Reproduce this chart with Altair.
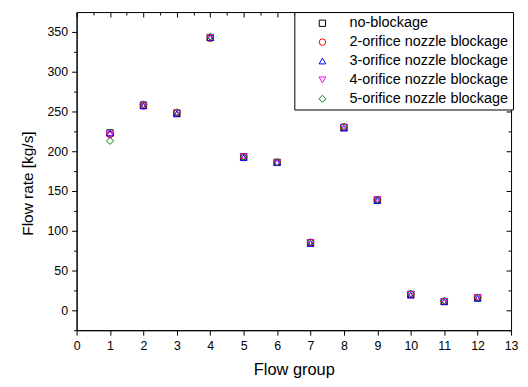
import altair as alt
import pandas as pd

groups = [1, 2, 3, 4, 5, 6, 7, 8, 9, 10, 11, 12]
series_names = [
    "no-blockage",
    "2-orifice nozzle blockage",
    "3-orifice nozzle blockage",
    "4-orifice nozzle blockage",
    "5-orifice nozzle blockage",
]
no_blockage = [223, 258, 248, 343, 193, 186, 85, 230, 139, 20, 11, 16]
orifice2 = [221, 257, 248, 342, 192, 186, 85, 230, 138, 20, 11, 16]
orifice3 = [223, 257, 247, 343, 192, 186, 84, 229, 138, 19, 11, 15]
orifice4 = [220, 258, 248, 343, 193, 185, 85, 230, 139, 20, 11, 16]
orifice5 = [213, 259, 249, 344, 193, 186, 86, 231, 139, 21, 12, 16]
series_values = [no_blockage, orifice2, orifice3, orifice4, orifice5]
colors = ["#000000", "#ff0000", "#0000ff", "#ff00ff", "#008000"]
shapes = ["square", "circle", "triangle-up", "triangle-down", "diamond"]
marker_sizes = [40, 50, 55, 55, 85]

x_ticks_all = [i * 0.5 for i in range(0, 27)]
x_major = list(range(0, 14))
x_minor = [i + 0.5 for i in range(0, 13)]
y_ticks_all = [-25 + 25 * i for i in range(0, 16)]
y_major = [0, 50, 100, 150, 200, 250, 300, 350]
y_minor = [-25, 25, 75, 125, 175, 225, 275, 325, 375]

rows = []
for name, vals in zip(series_names, series_values):
    for g, v in zip(groups, vals):
        rows.append({"group": g, "flow": v, "series": name})
df = pd.DataFrame(rows)

xscale = alt.Scale(domain=[0, 13], nice=False, zero=False)
yscale = alt.Scale(domain=[-25, 375], nice=False, zero=False)

bottom_axis = alt.Axis(
    orient="bottom", values=x_ticks_all, grid=False, format="d",
    labelExpr="datum.value % 1 === 0 ? datum.label : ''",
    tickSize={"condition": {"test": "datum.value % 1 !== 0", "value": 3}, "value": 5},
    labelPadding=4, labelFontSize=12.5, titleFontSize=16.5, titlePadding=10,
    title="Flow group", labelOverlap=False, labelFlush=False,
)
left_axis = alt.Axis(
    orient="left", values=y_ticks_all, grid=False, format="d",
    labelExpr="datum.value % 50 === 0 ? datum.label : ''",
    tickSize={"condition": {"test": "datum.value % 50 !== 0", "value": 3}, "value": 5},
    labelPadding=4, labelFontSize=12.5, titleFontSize=15.5, titlePadding=12,
    titleY=172,
    title="Flow rate [kg/s]", labelOverlap=False, labelFlush=False,
)

points = alt.Chart(df).mark_point(filled=False, strokeWidth=1, opacity=1).encode(
    x=alt.X("group:Q", scale=xscale, axis=bottom_axis),
    y=alt.Y("flow:Q", scale=yscale, axis=left_axis),
    color=alt.Color("series:N", scale=alt.Scale(domain=series_names, range=colors),
                    legend=alt.Legend(title=None)),
    shape=alt.Shape("series:N", scale=alt.Scale(domain=series_names, range=shapes),
                    legend=alt.Legend(title=None)),
    size=alt.Size("series:N", scale=alt.Scale(domain=series_names, range=marker_sizes),
                  legend=alt.Legend(title=None)),
)

def inner_axes(xvals, yvals, size):
    return alt.Chart(df).mark_point(opacity=0).encode(
        x=alt.X("group:Q", scale=xscale, axis=alt.Axis(
            orient="top", values=xvals, labels=False, domain=False, grid=False,
            tickSize=size, offset=-size, title=None, minExtent=0, maxExtent=0)),
        y=alt.Y("flow:Q", scale=yscale, axis=alt.Axis(
            orient="right", values=yvals, labels=False, domain=False, grid=False,
            tickSize=size, offset=-size, title=None, minExtent=0, maxExtent=0)),
    )

chart = alt.layer(
    points,
    inner_axes(x_major, y_major, 5),
    inner_axes(x_minor, y_minor, 3),
).resolve_axis(x="independent", y="independent").properties(
    width=437, height=320,
    padding={"left": 12, "top": 2, "right": 2, "bottom": 0},
).configure(font="Liberation Sans").configure_view(
    stroke="black", strokeWidth=1
).configure_axis(
    domainColor="black", tickColor="black", labelColor="black", titleColor="black",
    titleFontWeight="normal", domainWidth=1, tickWidth=1,
    labelFont="Liberation Sans", titleFont="Liberation Sans",
).configure_legend(
    orient="none", legendX=219, legendY=0,
    strokeColor="black", fillColor="white", padding=4,
    labelFontSize=14.5, labelColor="black", rowPadding=4, labelLimit=0,
    labelFont="Liberation Sans",
    symbolStrokeWidth=1, symbolOffset=17, labelOffset=20,
)

chart.save("out.html", embed_options={"renderer": "svg", "actions": False})
